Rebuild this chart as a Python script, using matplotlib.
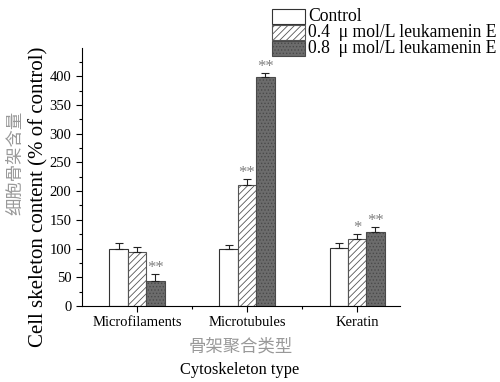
import numpy as np
from matplotlib import pyplot as plt
from matplotlib.patches import Rectangle

plt.rcParams['font.family'] = ['Liberation Serif', 'Noto Sans CJK SC']
plt.rcParams['hatch.linewidth'] = 0.6

# data
categories = ['Microfilaments', 'Microtubules', 'Keratin']
series = ['Control', '0.4  \u03bc mol/L leukamenin E', '0.8  \u03bc mol/L leukamenin E']
control = [100, 100, 101]
control_err = [9, 7, 8]
low_dose = [94, 210, 116]
low_err = [9, 11, 9]
high_dose = [43, 398, 129]
high_err = [12, 7, 8]
low_marks = ['', '**', '*']
high_marks = ['**', '**', '**']

fig = plt.figure(figsize=(5.0, 3.82), dpi=100)
ax = fig.add_axes([0.164, 0.199, 0.636, 0.675])

x = np.arange(1, len(categories) + 1)
w = 0.167
styles = [
    dict(facecolor='white', edgecolor='#333333', hatch=None),
    dict(facecolor='white', edgecolor='#555555', hatch='/////'),
    dict(facecolor='#6c6c6c', edgecolor='#4a4a4a', hatch='.....'),
]
values = [control, low_dose, high_dose]
errors = [control_err, low_err, high_err]

for i, (vals, errs, st) in enumerate(zip(values, errors, styles)):
    pos = x + (i - 1) * w
    ax.bar(pos, vals, width=w, linewidth=0.8, **st)
    ax.errorbar(pos, vals, yerr=[np.zeros(len(errs)), errs], fmt='none',
                ecolor='#222222', elinewidth=0.8, capsize=3, capthick=0.8)

# significance stars
for marks, vals, errs, off in [(low_marks, low_dose, low_err, 0), (high_marks, high_dose, high_err, 1)]:
    for xi, m, v, e in zip(x, marks, vals, errs):
        if m:
            ax.text(xi + off * w, v + e - 3, m, ha='center', va='bottom',
                    fontsize=12, color='#808080')

ax.set_xlim(0.5, 3.39)
ax.set_ylim(0, 449)
ax.set_xticks(x)
ax.set_xticks([1.5, 2.5], minor=True)
ax.set_xticklabels(categories, fontsize=10.5)
ax.set_yticks(np.arange(0, 401, 50))
ax.set_yticks(np.arange(25, 426, 50), minor=True)
ax.tick_params(axis='both', which='major', direction='out', length=4, width=0.8, labelsize=10.5)
ax.tick_params(axis='both', which='minor', direction='out', length=2.5, width=0.8)
ax.spines['top'].set_visible(False)
ax.spines['right'].set_visible(False)

# axis titles (English + Chinese)
fig.text(0.077, 0.484, 'Cell skeleton content (% of control)', rotation=90,
         ha='center', va='center', fontsize=15)
fig.text(0.03, 0.573, '细胞骨架含量', rotation=90, ha='center', va='center',
         fontsize=12.5, color='#999999', family=['Noto Sans CJK SC'])
fig.text(0.482, 0.092, '骨架聚合类型', ha='center', va='center', fontsize=12.5,
         color='#999999', family=['Noto Sans CJK SC'])
fig.text(0.48, 0.031, 'Cytoskeleton type', ha='center', va='center', fontsize=11.8)

# legend drawn by hand so the rows sit as tight as in the reference
row_tops = [9, 25, 41]
for st, label, top in zip(styles, series, row_tops):
    fig.patches.append(Rectangle((272 / 500, 1 - (top + 15) / 382), 33 / 500, 15 / 382,
                                 transform=fig.transFigure, linewidth=0.8, **st))
    fig.text(308 / 500, 1 - (top + 7.5) / 382, label, ha='left', va='center', fontsize=12.7)

fig.savefig('out.png', dpi=100)
